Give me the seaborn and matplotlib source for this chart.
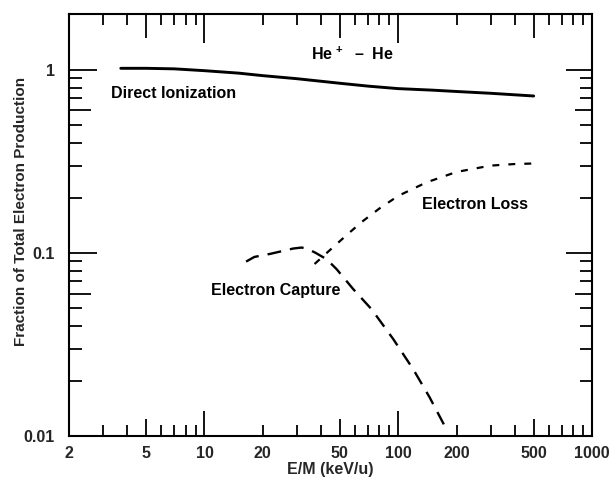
import numpy as np
import pandas as pd
import matplotlib
matplotlib.use("Agg")
import matplotlib.pyplot as plt
from matplotlib.ticker import FixedLocator, NullLocator, FixedFormatter
import seaborn as sns

# Energy per mass (keV/u) and fraction of total electron production
ion_x = [3.7, 5, 7, 10, 15, 20, 30, 50, 70, 100, 150, 200, 300, 500]
ion_y = [1.02, 1.02, 1.013, 0.99, 0.96, 0.93, 0.895, 0.845, 0.815, 0.79, 0.775, 0.762, 0.745, 0.72]

loss_x = [37, 45, 55, 65, 80, 100, 140, 200, 300, 400, 500]
loss_y = [0.087, 0.105, 0.127, 0.148, 0.175, 0.205, 0.243, 0.277, 0.300, 0.306, 0.308]

capt_x = [16.4, 18.1, 22, 28.7, 31.7, 33.7, 37.2, 42.7, 48.1, 58.6, 72.9, 94.3, 119.6, 145, 174]
capt_y = [0.0897, 0.0951, 0.099, 0.1057, 0.107, 0.1057, 0.1005, 0.0924, 0.0815, 0.0634,
          0.0492, 0.0338, 0.0231, 0.0163, 0.0113]

x_label_vals = [2, 5, 10, 20, 50, 100, 200, 500, 1000]
y_label_vals = ["0.01", "0.1", "1"]

sns.set_theme(style="white")
plt.rcParams["font.family"] = ["Liberation Sans", "DejaVu Sans"]
plt.rcParams["font.weight"] = "bold"
plt.rcParams["mathtext.fontset"] = "custom"
plt.rcParams["mathtext.rm"] = "Liberation Sans:bold"
plt.rcParams["mathtext.bf"] = "Liberation Sans:bold"
plt.rcParams["lines.scale_dashes"] = False

fig = plt.figure(figsize=(6.14, 4.84), dpi=100)
ax = fig.add_axes([0.1124, 0.0992, 0.8518, 0.8719])

df_ion = pd.DataFrame({"E": ion_x, "F": ion_y})
df_loss = pd.DataFrame({"E": loss_x, "F": loss_y})
df_capt = pd.DataFrame({"E": capt_x, "F": capt_y})

sns.lineplot(data=df_ion, x="E", y="F", ax=ax, color="black", linewidth=2.1)
ax.lines[-1].set_linestyle("-")
sns.lineplot(data=df_loss, x="E", y="F", ax=ax, color="black", linewidth=1.6)
ax.lines[-1].set_linestyle((0, (5, 6.5)))
sns.lineplot(data=df_capt, x="E", y="F", ax=ax, color="black", linewidth=1.7)
ax.lines[-1].set_linestyle((0, (10, 6.5)))

ax.set_xscale("log")
ax.set_yscale("log")
ax.set_xlim(2, 1000)
ax.set_ylim(0.01, 2.02)

# x ticks: one per unit step in each decade, labels only at selected values
x_ticks = [v * 10 ** d for d in range(0, 3) for v in range(1, 10)] + [1000]
x_ticks = [t for t in x_ticks if 2 <= t <= 1000]
x_lbls = [(str(int(t)) if t in x_label_vals else "") for t in x_ticks]
ax.xaxis.set_major_locator(FixedLocator(x_ticks))
ax.xaxis.set_major_formatter(FixedFormatter(x_lbls))
ax.xaxis.set_minor_locator(NullLocator())

y_ticks = [round(v * 10 ** d, 4) for d in (-2, -1) for v in range(1, 10)] + [1]
y_lbls = [(f"{t:g}" if f"{t:g}" in y_label_vals else "") for t in y_ticks]
ax.yaxis.set_major_locator(FixedLocator(y_ticks))
ax.yaxis.set_major_formatter(FixedFormatter(y_lbls))
ax.yaxis.set_minor_locator(NullLocator())

ax.tick_params(axis="both", which="major", direction="in", color="black", width=1.3,
               labelsize=11.5, top=True, right=True, bottom=True, left=True)
ax.tick_params(axis="x", pad=7)
ax.tick_params(axis="y", pad=10)

for t in ax.get_xticklabels() + ax.get_yticklabels():
    t.set_fontweight("bold")

def lead(v):
    m = v / 10 ** np.floor(np.log10(v) + 1e-9)
    return int(round(m))

for tick, val in zip(ax.xaxis.get_major_ticks(len(x_ticks)), x_ticks):
    m = lead(val)
    if m == 1:
        b, t = 18, 21
    elif m == 5:
        b, t = 12, 17
    else:
        b, t = 8, 8
    tick.tick1line.set_markersize(b)
    tick.tick2line.set_markersize(t)

for tick, val in zip(ax.yaxis.get_major_ticks(len(y_ticks)), y_ticks):
    m = lead(val)
    if m == 1:
        l, r = 20, 19
    elif m == 6:
        l, r = 16, 12
    else:
        l, r = 9.4, 8.6
    tick.tick1line.set_markersize(l)
    tick.tick2line.set_markersize(r)

for s in ax.spines.values():
    s.set_visible(True)
    s.set_color("black")
    s.set_linewidth(1.5)

ax.set_xlabel("E/M (keV/u)", fontsize=11.5, fontweight="bold", labelpad=1)
ax.set_ylabel("Fraction of Total Electron Production", fontsize=11, fontweight="bold")
ax.yaxis.set_label_coords(-0.078, 0.531)

txt = dict(fontsize=11.5, fontweight="bold", color="black")
ax.text(58, 1.22, r"He$^{\,+}$  –  He", ha="center", va="center", **txt)
ax.text(3.3, 0.746, "Direct Ionization", ha="left", va="center", **txt)
ax.text(132, 0.183, "Electron Loss", ha="left", va="center", **txt)
ax.text(10.76, 0.062, "Electron Capture", ha="left", va="center", **txt)

fig.savefig("out.png", dpi=100)
